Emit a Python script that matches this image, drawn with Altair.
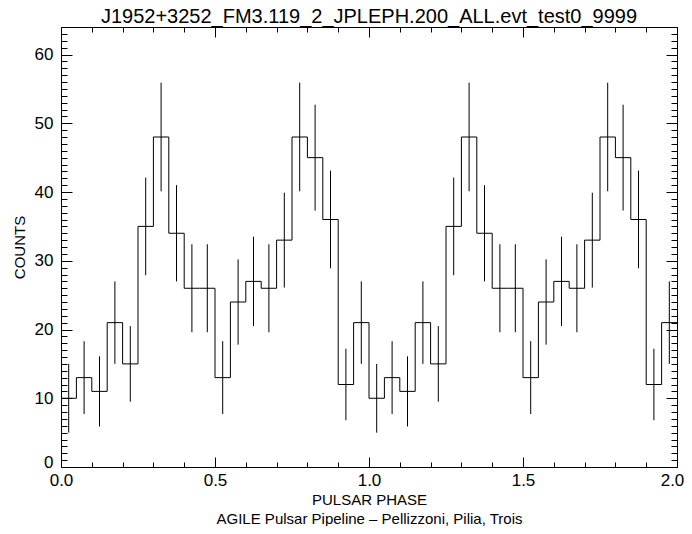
import altair as alt
import pandas as pd

# ---- data ----
counts = [10, 13, 11, 21, 15, 35, 48, 34, 26, 26, 13, 24, 27, 26, 33, 48, 45, 36, 12, 21,
          10, 13, 11, 21, 15, 35, 48, 34, 26, 26, 13, 24, 27, 26, 33, 48, 45, 36, 12, 21]
errors = [5.0, 5.3, 5.1, 6.0, 5.5, 7.1, 7.9, 7.0, 6.4, 6.4, 5.3, 6.2, 6.5, 6.4, 6.9, 7.9, 7.7, 7.1, 5.2, 6.0,
          5.0, 5.3, 5.1, 6.0, 5.5, 7.1, 7.9, 7.0, 6.4, 6.4, 5.3, 6.2, 6.5, 6.4, 6.9, 7.9, 7.7, 7.1, 5.2, 6.0]
x_major = [0.0, 0.5, 1.0, 1.5, 2.0]
x_ticks = [0.0, 0.1, 0.2, 0.3, 0.4, 0.5, 0.6, 0.7, 0.8, 0.9, 1.0,
           1.1, 1.2, 1.3, 1.4, 1.5, 1.6, 1.7, 1.8, 1.9, 2.0]
y_major = [0, 10, 20, 30, 40, 50, 60]
y_ticks = list(range(0, 65))
title_text = "J1952+3252_FM3.119_2_JPLEPH.200_ALL.evt_test0_9999"
x_title = ["PULSAR PHASE", "AGILE Pulsar Pipeline \u2013 Pellizzoni, Pilia, Trois"]
y_title = "COUNTS"

n_bins = len(counts)
bin_w = 2.0 / n_bins

step_df = pd.DataFrame({
    "x": [i * bin_w for i in range(n_bins + 1)],
    "y": counts + [counts[-1]],
})
bins_df = pd.DataFrame({
    "center": [(i + 0.5) * bin_w for i in range(n_bins)],
    "counts": counts,
    "err": errors,
})
bins_df["lo"] = bins_df["counts"] - bins_df["err"]
bins_df["hi"] = bins_df["counts"] + bins_df["err"]

FONT = "Liberation Sans"
W, H = 616, 440
xs = alt.Scale(domain=[0, 2], nice=False, zero=False)
ys = alt.Scale(domain=[0, 64], nice=False, zero=False)

x_major_test = "abs(datum.value*2 - round(datum.value*2)) < 0.001"
y_major_test = "datum.value % 10 === 0"
x_tick_size = {"condition": {"test": x_major_test, "value": 10}, "value": 5}
y_tick_size = {"condition": {"test": y_major_test, "value": 11}, "value": 6}

ax_x_lab = alt.Axis(orient="bottom", values=x_major, format=".1f", ticks=False, tickSize=0,
                    domain=False, grid=False, labelFont=FONT, labelFontSize=17, labelPadding=5,
                    labelFlush=False, labelOverlap=False,
                    labelOffset={"condition": {"test": "datum.value >= 1.99", "value": -5}, "value": 0},
                    labelColor="black", title=x_title, titleFont=FONT, titleFontSize=15,
                    titleFontWeight="normal", titleColor="black", titlePadding=4, titleLineHeight=19)
ax_y_lab = alt.Axis(orient="left", values=y_major, format="d", ticks=False, tickSize=0,
                    domain=False, grid=False, labelFont=FONT, labelFontSize=17, labelPadding=8,
                    labelFlush=False, labelOverlap=False,
                    labelBaseline={"condition": {"test": "datum.value === 0", "value": "alphabetic"},
                                   "value": "middle"},
                    labelColor="black", title=y_title, titleFont=FONT, titleFontSize=15,
                    titleFontWeight="normal", titleColor="black", titlePadding=7)

ax_x_bot = alt.Axis(orient="top", offset=-H, values=x_ticks, labels=False, domain=False, grid=False,
                    ticks=True, tickSize=x_tick_size, tickColor="black", tickWidth=1, title=None)
ax_x_top = alt.Axis(orient="bottom", offset=-H, values=x_ticks, labels=False, domain=False, grid=False,
                    ticks=True, tickSize=x_tick_size, tickColor="black", tickWidth=1, title=None)
ax_y_left = alt.Axis(orient="right", offset=-W, values=y_ticks, labels=False, domain=False, grid=False,
                     ticks=True, tickSize=y_tick_size, tickColor="black", tickWidth=1, title=None)
ax_y_right = alt.Axis(orient="left", offset=-W, values=y_ticks, labels=False, domain=False, grid=False,
                      ticks=True, tickSize=y_tick_size, tickColor="black", tickWidth=1, title=None)

step = alt.Chart(step_df).mark_line(interpolate="step-after", color="black", strokeWidth=1).encode(
    x=alt.X("x:Q", scale=xs, axis=ax_x_lab),
    y=alt.Y("y:Q", scale=ys, axis=ax_y_lab),
)
errbars = alt.Chart(bins_df).mark_rule(color="black", strokeWidth=1).encode(
    x=alt.X("center:Q", scale=xs, axis=ax_x_bot),
    y=alt.Y("lo:Q", scale=ys, axis=ax_y_left),
    y2="hi:Q",
)
ghost = alt.Chart(step_df).mark_line(opacity=0).encode(
    x=alt.X("x:Q", scale=xs, axis=ax_x_top),
    y=alt.Y("y:Q", scale=ys, axis=ax_y_right),
)

chart = alt.layer(step, errbars, ghost).resolve_axis(
    x="independent", y="independent"
).properties(
    width=W, height=H,
    autosize=alt.AutoSizeParams(type="none"),
    padding={"left": 53, "top": 19, "right": 7, "bottom": 59},
    title=alt.TitleParams(text=title_text, font=FONT, fontSize=20, fontWeight="normal",
                          color="black", offset=0, anchor="middle", frame="group"),
    background="white",
).configure_view(stroke="black", strokeWidth=1)

chart.save("out.html", embed_options={"renderer": "svg", "actions": False})
